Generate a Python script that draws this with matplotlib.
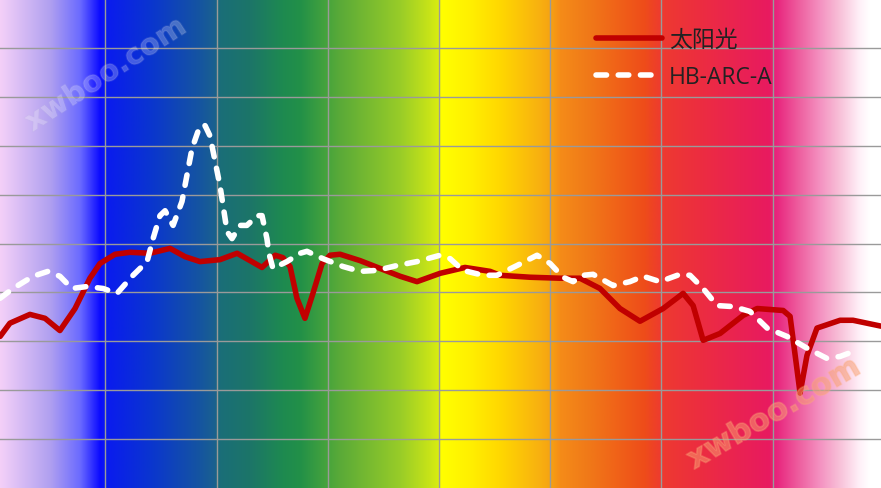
import numpy as np
import matplotlib
matplotlib.use("Agg")
import matplotlib.pyplot as plt
import matplotlib.patheffects as pe
from matplotlib.colors import LinearSegmentedColormap

# 波长 (nm) 与相对强度
sun_wl = [352.6, 357.0, 366.0, 372.8, 379.5, 386.3, 393.0, 397.5, 404.3, 411.0,
          420.0, 429.0, 435.8, 442.5, 451.5, 459.2, 465.0, 470.4, 476.3, 479.8,
          483.0, 486.1, 489.7, 493.3, 497.4, 501.0, 505.5, 514.5, 523.5, 532.5,
          540.1, 550.5, 561.7, 573.0, 577.4, 591.0, 604.4, 613.4, 622.4, 631.4,
          640.4, 650.8, 659.8, 664.3, 668.8, 676.4, 686.8, 693.1, 704.8, 707.9,
          710.2, 712.4, 715.5, 720.0, 730.4, 736.2, 748.8]
sun_val = [3.10, 3.37, 3.55, 3.47, 3.22, 3.67, 4.29, 4.59, 4.78, 4.82,
           4.80, 4.90, 4.73, 4.63, 4.67, 4.80, 4.65, 4.51, 4.76, 4.71,
           4.53, 3.88, 3.47, 3.98, 4.59, 4.76, 4.78, 4.65, 4.49, 4.33,
           4.22, 4.39, 4.51, 4.43, 4.35, 4.31, 4.29, 4.29, 4.08, 3.67,
           3.41, 3.67, 3.98, 3.73, 3.02, 3.16, 3.53, 3.67, 3.63, 3.51,
           2.71, 1.94, 2.71, 3.27, 3.43, 3.43, 3.31]

arc_wl = [352.6, 358.4, 367.4, 374.1, 379.5, 384.9, 391.7, 398.9, 405.2, 412.4,
          418.7, 421.4, 424.5, 426.8, 430.4, 434.4, 438.9, 442.5, 444.8, 447.0,
          451.5, 454.7, 456.9, 460.5, 463.6, 468.2, 470.4, 472.6, 473.5, 475.3,
          481.6, 487.5, 490.6, 497.8, 506.8, 514.5, 522.1, 531.1, 540.1, 550.5,
          555.0, 560.8, 569.8, 576.1, 585.1, 594.1, 600.0, 605.8, 610.3, 614.8,
          619.3, 628.3, 635.9, 641.8, 649.4, 658.4, 662.9, 668.8, 675.1, 682.3,
          689.9, 697.6, 706.5, 715.5, 724.5, 730.4, 738.0]
arc_val = [3.88, 4.08, 4.33, 4.43, 4.33, 4.08, 4.12, 4.08, 3.98, 4.35,
           4.63, 5.10, 5.57, 5.67, 5.37, 5.86, 6.94, 7.41, 7.41, 7.20,
           6.18, 5.24, 5.10, 5.37, 5.37, 5.57, 5.57, 5.10, 4.80, 4.49,
           4.63, 4.80, 4.84, 4.69, 4.53, 4.43, 4.45, 4.55, 4.63, 4.76,
           4.69, 4.45, 4.35, 4.35, 4.55, 4.76, 4.59, 4.31, 4.22, 4.35,
           4.37, 4.14, 4.22, 4.33, 4.22, 4.37, 4.35, 4.08, 3.73, 3.71,
           3.61, 3.27, 3.10, 2.86, 2.65, 2.69, 2.82]

labels = ["太阳光", "HB-ARC-A"]

# 背景光谱色带 (像素位置, 颜色)
stops = [(0, '#f4d0f8'), (50, '#b0a0f0'), (80, '#6a6aff'), (100, '#0a0aff'),
         (105, '#0a1af0'), (150, '#0a35d0'), (200, '#1555a0'), (214, '#1a6090'),
         (220, '#1a6e78'), (250, '#1c7568'), (283, '#1e8a50'), (300, '#229048'),
         (328, '#48a43c'), (340, '#5aaa38'), (400, '#98cc28'), (430, '#c8e418'),
         (438, '#d8ec10'), (441, '#ffff00'), (470, '#fff000'), (500, '#ffd800'),
         (540, '#f8b010'), (550, '#f6a412'), (560, '#f58c18'), (590, '#f07818'),
         (620, '#f06018'), (645, '#ee4c1a'), (662, '#ee3a30'), (700, '#ec2d40'),
         (770, '#e81a60'), (775, '#e8207a'), (800, '#ee60a0'), (820, '#f490c0'),
         (840, '#f8c0d8'), (860, '#fff0f8'), (870, '#ffffff'), (881, '#ffffff')]
cmap = LinearSegmentedColormap.from_list(
    "spec", [(p / 881, c) for p, c in stops], N=1024)

fig = plt.figure(figsize=(8.81, 4.89), dpi=100)
ax = fig.add_axes([0, 0, 1, 1])
x0, x1 = 352.55, 748.8
ax.imshow(np.linspace(0, 1, 1024)[None, :], cmap=cmap, aspect='auto',
          extent=[x0, x1, 0, 10], zorder=0, interpolation='bilinear')
ax.set_xlim(x0, x1)
ax.set_ylim(0, 10)
ax.set_xticks(range(400, 701, 50))
ax.set_yticks(range(1, 10))
ax.grid(True, color='#9a9a9a', linewidth=1)
ax.tick_params(length=0, labelbottom=False, labelleft=False)
for s in ax.spines.values():
    s.set_visible(False)

ax.plot(sun_wl, sun_val, color='#c00000', lw=4, solid_joinstyle='round',
        solid_capstyle='round', label=labels[0], zorder=3)
ax.plot(arc_wl, arc_val, color='white', lw=4, linestyle=(0, (1.9, 2.1)),
        dash_capstyle='round', label=labels[1], zorder=3)

leg = ax.legend(loc='upper left', bbox_to_anchor=(596 / 881, 1 - 29 / 489),
                frameon=False, borderpad=0, borderaxespad=0,
                handlelength=2.9, handletextpad=0.28, labelspacing=0.58,
                prop={'family': ['Open Sans', 'Noto Sans CJK SC'], 'size': 16.5})
for t in leg.get_texts():
    t.set_color('#222222')

# 水印
ax.text(0.12, 0.845, "xwboo.com", transform=ax.transAxes, rotation=33,
        ha='center', va='center', fontsize=21, fontweight='bold',
        family='DejaVu Sans', color='white', alpha=0.13, zorder=4,
        path_effects=[pe.withStroke(linewidth=1.2, foreground='#c0c0e0')])
ax.text(0.878, 0.152, "xwboo.com", transform=ax.transAxes, rotation=30,
        ha='center', va='center', fontsize=22, fontweight='bold',
        family='DejaVu Sans', color='#f8a070', alpha=0.3, zorder=4,
        path_effects=[pe.withStroke(linewidth=1.2, foreground='#ffb080')])

fig.savefig("out.png", dpi=100)
